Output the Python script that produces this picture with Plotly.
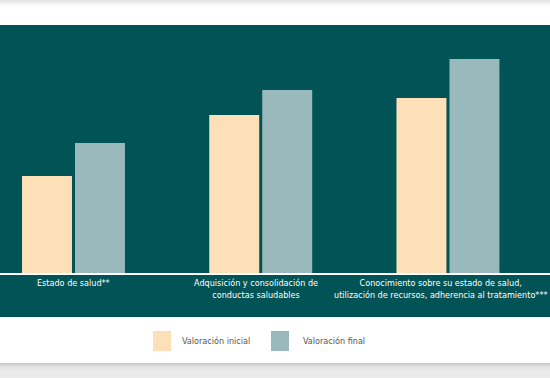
import plotly.graph_objects as go

categories = [
    "Estado de salud**",
    "Adquisición y consolidación de<br>conductas saludables",
    "Conocimiento sobre su estado de salud,<br>utilización de recursos, adherencia al tratamiento***",
]
valoracion_inicial = [97, 158, 175]
valoracion_final = [130, 183, 214]
series_names = ["Valoración inicial", "Valoración final"]
series_colors = ["#FDE0B8", "#9AB9BD"]
label_shifts = [0, -5, -7]

TEAL = "#015356"
FONT = "DejaVu Sans Condensed, Liberation Sans Narrow, Arial Narrow, sans-serif"
W, H = 550, 378
T, B = 25, 105  # plot area from y=25 to y=273
PH = H - T - B


def py(pix):
    """pixel y (from top) -> paper y"""
    return (H - B - pix) / PH


def px(pix):
    return pix / W


fig = go.Figure()
for name, vals, col in zip(series_names, [valoracion_inicial, valoracion_final], series_colors):
    fig.add_trace(go.Bar(x=categories, y=vals, name=name, marker=dict(color=col, line=dict(width=0)),
                         showlegend=False))

shapes = []
for i, c in enumerate(["#e4e4e4", "#e9e9e9", "#eeeeee", "#f2f2f2", "#f6f6f6", "#fafafa"]):
    shapes.append(dict(type="rect", xref="paper", yref="paper", x0=0, x1=1, y0=py(i + 1), y1=py(i),
                       fillcolor=c, line=dict(width=0), layer="below"))
shapes.append(dict(type="rect", xref="paper", yref="paper", x0=0, x1=1, y0=py(317), y1=py(25),
                   fillcolor=TEAL, line=dict(width=0), layer="below"))
grays = ["#c9c9c9", "#d2d2d2", "#d9d9d9", "#dfdfdf", "#e3e3e3", "#e6e6e6", "#e8e8e8", "#eaeaea"]
for i in range(15):
    c = grays[min(i, len(grays) - 1)]
    shapes.append(dict(type="rect", xref="paper", yref="paper", x0=0, x1=1, y0=py(364 + i), y1=py(363 + i),
                       fillcolor=c, line=dict(width=0), layer="below"))
for x0, col in zip([153, 271], series_colors):
    shapes.append(dict(type="rect", xref="paper", yref="paper", x0=px(x0), x1=px(x0 + 18),
                       y0=py(351), y1=py(331), fillcolor=col, line=dict(width=0)))

annotations = []
for x0, name in zip([180, 301], series_names):
    annotations.append(dict(xref="paper", yref="paper", x=px(x0), y=py(341), xanchor="left", yanchor="middle",
                            text=name, showarrow=False,
                            font=dict(family=FONT, size=9, color="#555555")))
# category labels under the axis
for cat, shift in zip(categories, label_shifts):
    annotations.append(dict(xref="x", yref="paper", x=cat, y=0, xanchor="center", yanchor="top",
                            xshift=shift, yshift=-3, align="center", text=cat, showarrow=False,
                            font=dict(family=FONT, size=9, color="white")))

fig.update_layout(
    width=W, height=H,
    margin=dict(l=0, r=0, t=T, b=B, pad=0),
    paper_bgcolor="white",
    plot_bgcolor=TEAL,
    barmode="group",
    bargap=0.434,
    bargroupgap=0.057,
    shapes=shapes,
    annotations=annotations,
    showlegend=False,
    xaxis=dict(range=[-0.3925, 2.545], showline=True, linecolor="white", linewidth=1.5,
               showgrid=False, zeroline=False, ticks="", showticklabels=False, automargin=False),
    yaxis=dict(range=[0, PH], visible=False, showgrid=False, zeroline=False, automargin=False),
)

fig.write_html("out.html", config={"displayModeBar": False},
               post_script="document.body.style.margin='0';document.body.style.padding='0';")
